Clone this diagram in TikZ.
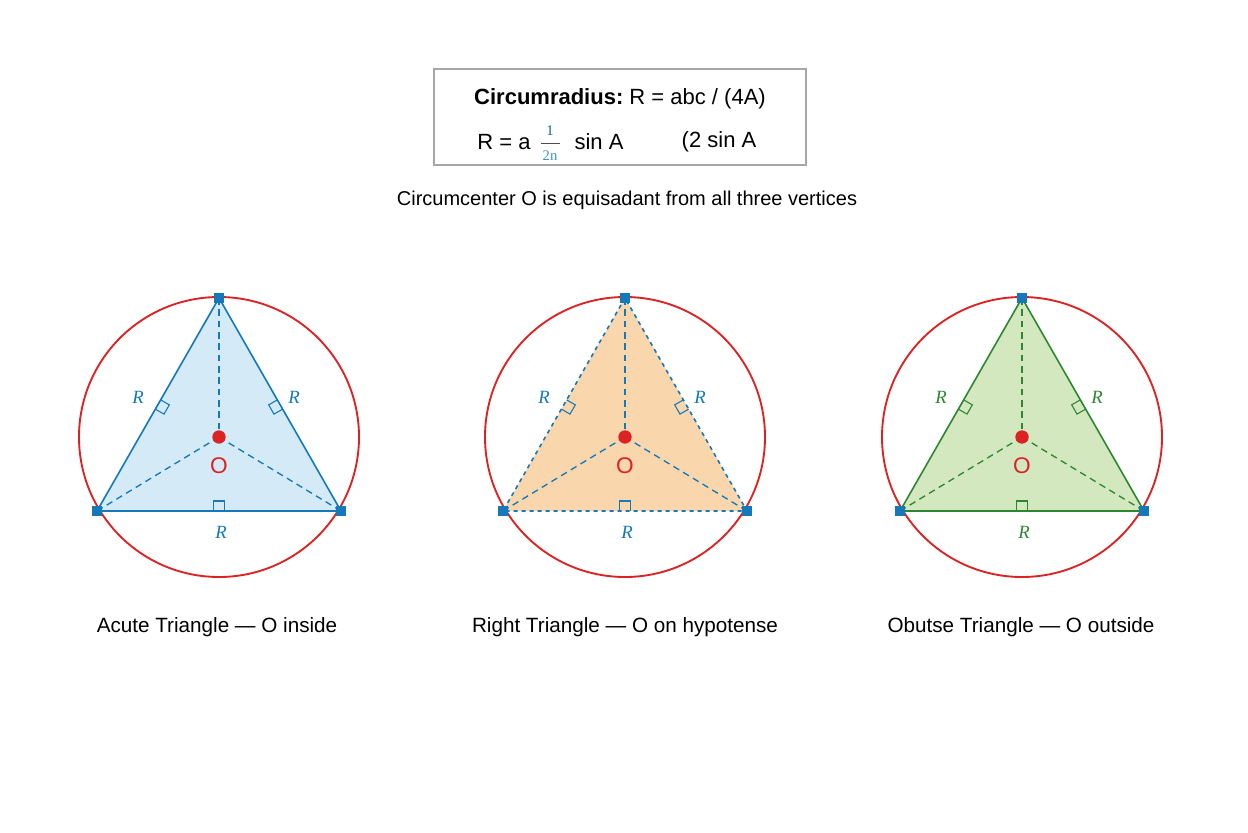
\documentclass[tikz,border=0pt]{standalone}
\usepackage{fontspec}
\setmainfont{Liberation Sans}
\newfontfamily\serifR{Liberation Serif}
\usetikzlibrary{calc}
\definecolor{cblue}{RGB}{20,120,185}
\definecolor{cred}{RGB}{220,35,35}
\definecolor{cgreen}{RGB}{45,135,50}
\definecolor{fblue}{RGB}{212,235,247}
\definecolor{forange}{RGB}{250,214,172}
\definecolor{fgreen}{RGB}{212,232,192}
\tikzset{
  circ/.style={draw=cred,line width=1.4pt},
  vtx/.style={fill=cblue,minimum size=8pt,inner sep=0pt,draw=none},
  rad/.style={line width=1pt,dash pattern=on 5pt off 3.5pt},
  rlab/.style={font=\serifR\itshape\fontsize{14}{14}\selectfont},
  olab/.style={text=cred,font=\fontsize{17}{17}\selectfont},
  caplab/.style={font=\fontsize{15.5}{16}\selectfont},
}
\newcommand{\ramk}[4]{%
  \coordinate (mm) at ($(#1)!0.5!(#2)$);
  \coordinate (q1) at ($(mm)!4pt!(#1)$);
  \coordinate (q2) at ($(mm)!4pt!(#2)$);
  \draw[#4,line width=0.8pt] (q1) -- ($(q1)!7.5pt!#3:(mm)$) -- ($(q2)!7.5pt!-#3:(mm)$) -- (q2);}
\newcommand{\tri}[6]{%
  \begin{scope}[shift={(#1,0)}]
    \coordinate (#2c) at (0,437);
    \coordinate (#2A) at (0,298);
    \coordinate (#2B) at (-122,511);
    \coordinate (#2C) at (122,511);
    \fill[#4] (#2A) -- (#2B) -- (#2C) -- cycle;
    \draw[circ] (#2c) circle[radius=140];
    \draw[#3,line width=1.2pt,#5] (#2A) -- (#2B) -- (#2C) -- cycle;
    \draw[#3,rad] (#2A) -- (#2c);
    \draw[#3,rad] (#2B) -- (#2c);
    \draw[#3,rad] (#2C) -- (#2c);
    \ramk{#2A}{#2B}{90}{#3}
    \ramk{#2B}{#2C}{90}{#3}
    \ramk{#2C}{#2A}{90}{#3}
    \node[circle,fill=cred,minimum size=10pt,inner sep=0pt] (#2o) at (#2c) {};
    \node[olab] (#2ol) at (0,466) {O};
    \node[rlab,text=#6] (#2r1) at (-81,397) {R};
    \node[rlab,text=#6] (#2r2) at (75,397) {R};
    \node[rlab,text=#6] (#2r3) at (2,532) {R};
    \node[vtx] (#2va) at (#2A) {};
    \node[vtx] (#2vb) at (#2B) {};
    \node[vtx] (#2vc) at (#2C) {};
  \end{scope}}
\begin{document}
\begin{tikzpicture}[x=0.75pt,y=-0.75pt]
\useasboundingbox[fill=white] (0,0) rectangle (1248,832);
\node[draw=black!35,line width=0.8pt,inner sep=0pt,minimum width=279pt,minimum height=72pt] (box) at (620,117) {};
\node[font=\bfseries\fontsize{16.5}{17}\selectfont] (t1) at (620,99) {Circumradius:\ \mdseries R = abc / (4A)};
\node[font=\fontsize{16.5}{17}\selectfont] (t2) at (504,142) {R = a};
\node[font=\serifR\fontsize{11}{11}\selectfont,text=cblue!80!black,inner sep=1pt] (fn) at (550,131) {1};
\node[font=\serifR\fontsize{11}{11}\selectfont,text=cblue!80,inner sep=1pt] (fd) at (550,156) {2n};
\draw[black!70,line width=0.7pt] (541,143) -- (560,143);
\node[font=\fontsize{16.5}{17}\selectfont] (t3) at (599,142) {sin A};
\node[font=\fontsize{16.5}{17}\selectfont] (t4) at (719,142) {(2 sin A};
\node[font=\fontsize{15}{16}\selectfont] (sub) at (627,200) {Circumcenter O is equisadant from all three vertices};
\tri{219}{a}{cblue}{fblue}{solid}{cblue}
\tri{625}{b}{cblue}{forange}{dashed}{cblue}
\tri{1022}{c}{cgreen}{fgreen}{solid}{cgreen}
\node[caplab] (l1) at (217,627) {Acute Triangle — O inside};
\node[caplab] (l2) at (625,627) {Right Triangle — O on hypotense};
\node[caplab] (l3) at (1021,627) {Obutse Triangle — O outside};
\end{tikzpicture}
\end{document}
